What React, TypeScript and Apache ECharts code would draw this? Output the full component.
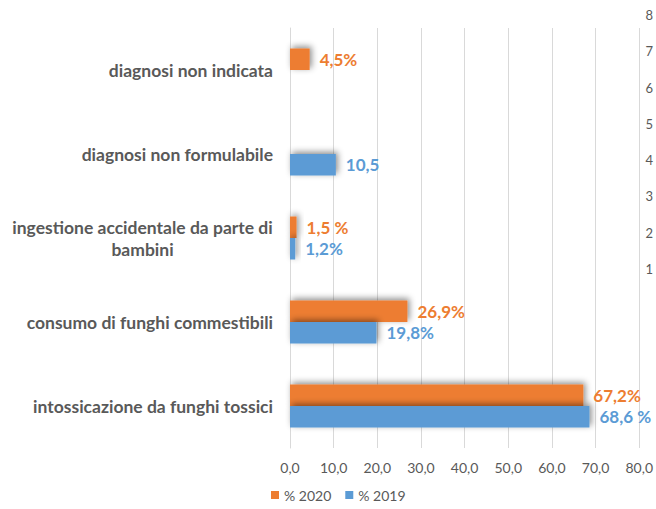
import React, { useEffect, useRef } from "react";
import * as echarts from "echarts";

const categories = [
  "intossicazione da funghi tossici",
  "consumo di funghi commestibili",
  "ingestione accidentale da parte di\nbambini",
  "diagnosi non formulabile",
  "diagnosi non indicata",
];
const values2019: (number | null)[] = [68.6, 19.8, 1.2, 10.5, null];
const values2020: (number | null)[] = [67.2, 26.9, 1.5, null, 4.5];
const labels2019 = ["68,6 %", "19,8%", "1,2%", "10,5", ""];
const labels2020 = ["67,2%", "26,9%", "1,5 %", "", "4,5%"];
const xTicks = [0, 10, 20, 30, 40, 50, 60, 70, 80];
const rightTicks = [0, 1, 2, 3, 4, 5, 6, 7, 8];
const legendNames = ["% 2020", "% 2019"];

const ORANGE = "#ED7D31";
const BLUE = "#5B9BD5";
const GREY = "#595959";
const FONT = "Lato";
const CAT_SIZE = 17.5;

function measure(text: string, font: string): number {
  const c = document.createElement("canvas").getContext("2d");
  if (!c) return text.length * 7.5;
  c.font = font;
  return c.measureText(text).width;
}

export default function App() {
  const ref = useRef<HTMLDivElement>(null);
  useEffect(() => {
    if (!ref.current) return;
    const chart = echarts.init(ref.current, null, { renderer: "svg" });
    const catFont = `bold ${CAT_SIZE}px ${FONT}`;
    const shadow = {
      shadowBlur: 6,
      shadowColor: "rgba(0,0,0,0.45)",
      shadowOffsetX: 2,
      shadowOffsetY: -2,
    };
    const barLabel = (color: string, labels: string[]) => ({
      show: true,
      position: "right",
      distance: 10,
      color,
      fontSize: 17,
      fontWeight: "bold",
      fontFamily: FONT,
      formatter: (p: any) => labels[p.dataIndex],
    });
    chart.setOption({
      animation: false,
      backgroundColor: "#fff",
      textStyle: { fontFamily: FONT },
      legend: {
        data: legendNames,
        bottom: 2,
        left: 266,
        icon: "rect",
        itemWidth: 8,
        itemHeight: 8,
        itemGap: 14,
        textStyle: { color: GREY, fontSize: 14, fontFamily: FONT },
      },
      grid: [
        { left: 290, right: 16, top: 28, bottom: 61 },
        { left: 600, right: 16, top: 15, height: 290 },
      ],
      xAxis: [
        {
          type: "value",
          gridIndex: 0,
          min: xTicks[0],
          max: xTicks[xTicks.length - 1],
          interval: 10,
          axisLine: { show: false },
          axisTick: { show: false },
          splitLine: { show: true, lineStyle: { color: "#D9D9D9" } },
          axisLabel: {
            color: GREY,
            fontSize: 14,
            margin: 12,
            fontFamily: FONT,
            formatter: (v: number) => v.toFixed(1).replace(".", ","),
          },
        },
        { type: "value", gridIndex: 1, show: false, min: 0, max: 1 },
      ],
      yAxis: [
        {
          type: "category",
          gridIndex: 0,
          data: categories,
          axisLine: { show: true, lineStyle: { color: "#D9D9D9" } },
          axisTick: { show: false },
          axisLabel: {
            margin: 17,
            color: GREY,
            fontSize: CAT_SIZE,
            fontWeight: "bold",
            fontFamily: FONT,
            lineHeight: 22,
            formatter: (v: string) => {
              if (v.indexOf("\n") >= 0) {
                return v
                  .split("\n")
                  .map((l) => `{c|${l}}`)
                  .join("\n");
              }
              return v;
            },
            rich: {
              c: {
                width: Math.ceil(
                  Math.max(
                    ...categories
                      .filter((c) => c.indexOf("\n") >= 0)
                      .flatMap((c) => c.split("\n"))
                      .map((l) => measure(l, catFont))
                  )
                ),
                align: "center",
                color: GREY,
                fontSize: CAT_SIZE,
                fontWeight: "bold",
                fontFamily: FONT,
                lineHeight: 22,
              },
            },
          },
        },
        {
          type: "value",
          gridIndex: 1,
          position: "right",
          min: rightTicks[0],
          max: rightTicks[rightTicks.length - 1],
          interval: 1,
          axisLine: { show: false },
          axisTick: { show: false },
          splitLine: { show: false },
          axisLabel: {
            color: GREY,
            fontSize: 13,
            margin: 8,
            fontFamily: FONT,
            showMinLabel: false,
          },
        },
      ],
      series: [
        {
          name: "% 2020",
          type: "bar",
          xAxisIndex: 0,
          yAxisIndex: 0,
          data: values2020,
          barWidth: 21.5,
          barGap: "0%",
          itemStyle: { color: ORANGE, ...shadow },
          label: barLabel(ORANGE, labels2020),
        },
        {
          name: "% 2019",
          type: "bar",
          xAxisIndex: 0,
          yAxisIndex: 0,
          data: values2019,
          barWidth: 21.5,
          barGap: "0%",
          itemStyle: { color: BLUE, ...shadow },
          label: barLabel(BLUE, labels2019),
        },
        {
          type: "line",
          xAxisIndex: 1,
          yAxisIndex: 1,
          data: [],
          silent: true,
        },
      ],
    });
    return () => chart.dispose();
  }, []);
  return <div ref={ref} style={{ width: 656, height: 509, position: "absolute", left: 0, top: 0 }} />;
}
